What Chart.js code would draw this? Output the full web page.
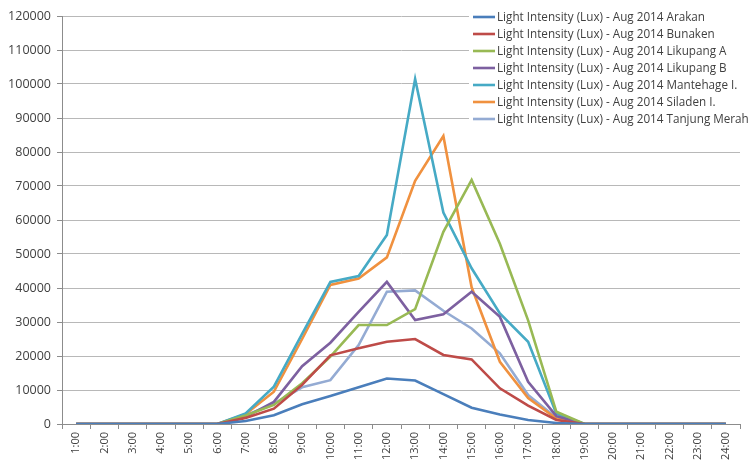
<!DOCTYPE html>
<html>
<head>
<meta charset="utf-8">
<script src="https://cdn.jsdelivr.net/npm/chart.js@4/dist/chart.umd.min.js"></script>
<style>
  html, body { margin: 0; padding: 0; background: #ffffff; }
  #wrap { width: 756px; height: 463px; position: relative; }
</style>
</head>
<body>
<div id="wrap"><canvas id="c" width="756" height="463"></canvas></div>
<script>
// Hourly light intensity (lux), August 2014, per site
const hours = ['1:00','2:00','3:00','4:00','5:00','6:00','7:00','8:00','9:00','10:00','11:00','12:00',
               '13:00','14:00','15:00','16:00','17:00','18:00','19:00','20:00','21:00','22:00','23:00','24:00'];

const seriesNames = [
  'Light Intensity (Lux) - Aug 2014 Arakan',
  'Light Intensity (Lux) - Aug 2014 Bunaken',
  'Light Intensity (Lux) - Aug 2014 Likupang A',
  'Light Intensity (Lux) - Aug 2014 Likupang B',
  'Light Intensity (Lux) - Aug 2014 Mantehage I.',
  'Light Intensity (Lux) - Aug 2014 Siladen I.',
  'Light Intensity (Lux) - Aug 2014 Tanjung Merah'
];

const arakan       = [0,0,0,0,0,0, 900, 2600, 5800, 8200, 10800, 13400, 12800, 8800, 4800, 2800, 1200, 300, 0,0,0,0,0,0];
const bunaken      = [0,0,0,0,0,0, 1800, 4500, 11500, 20200, 22300, 24200, 25000, 20300, 19000, 10500, 5400, 1200, 0,0,0,0,0,0];
const likupangA    = [0,0,0,0,0,0, 2500, 5600, 12000, 19800, 29100, 29100, 33800, 56500, 71800, 53000, 30500, 3600, 0,0,0,0,0,0];
const likupangB    = [0,0,0,0,0,0, 2100, 6500, 17000, 23900, 33000, 41800, 30600, 32300, 38900, 31500, 12400, 2300, 0,0,0,0,0,0];
const mantehage    = [0,0,0,0,0,0, 3100, 11000, 26500, 41800, 43500, 55600, 101500, 62200, 45800, 32500, 24200, 3000, 0,0,0,0,0,0];
const siladen      = [0,0,0,0,0,0, 2900, 9500, 25000, 40900, 42800, 49000, 71500, 84700, 40200, 18300, 7600, 1600, 0,0,0,0,0,0];
const tanjungMerah = [0,0,0,0,0,0, 2600, 5900, 10800, 12900, 23200, 38900, 39300, 33300, 28100, 20800, 8500, 1800, 0,0,0,0,0,0];

const seriesValues = [arakan, bunaken, likupangA, likupangB, mantehage, siladen, tanjungMerah];
const seriesColors = ['#4a7ebb', '#be4b48', '#98b954', '#7d60a0', '#46aac5', '#f0913f', '#94abd3'];

const yMax = 120000;
const yStep = 10000;

const datasets = seriesNames.map((name, i) => ({
  label: name,
  data: seriesValues[i],
  borderColor: seriesColors[i],
  backgroundColor: seriesColors[i],
  borderWidth: 2.6,
  pointRadius: 0,
  pointHoverRadius: 0,
  tension: 0,
  fill: false
}));

// Legend drawn over the top-right of the plot area on a white panel
const overlayLegend = {
  id: 'overlayLegend',
  afterDraw(chart) {
    const ctx = chart.ctx;
    const x0 = 469, y0 = 8, rowH = 17;
    ctx.save();
    ctx.fillStyle = '#ffffff';
    ctx.fillRect(x0, y0, 756 - x0, rowH * seriesNames.length + 2);
    ctx.font = '11.7px "Open Sans", "Liberation Sans", sans-serif';
    ctx.textBaseline = 'middle';
    ctx.textAlign = 'left';
    chart.data.datasets.forEach((ds, i) => {
      const cy = y0 + 9 + i * rowH;
      ctx.strokeStyle = ds.borderColor;
      ctx.lineWidth = 2.6;
      ctx.beginPath();
      ctx.moveTo(473, cy);
      ctx.lineTo(495, cy);
      ctx.stroke();
      ctx.fillStyle = '#3f3f3f';
      ctx.fillText(ds.label, 497, cy + 0.5);
    });
    ctx.restore();
  }
};

new Chart(document.getElementById('c'), {
  type: 'line',
  data: { labels: hours, datasets },
  options: {
    responsive: false,
    animation: false,
    devicePixelRatio: 1,
    layout: { padding: { left: 0, right: 16, top: 16, bottom: 0 } },
    plugins: {
      legend: { display: false },
      tooltip: { enabled: false }
    },
    scales: {
      x: {
        type: 'category',
        offset: true,
        grid: {
          offset: true,
          drawOnChartArea: false,
          drawTicks: true,
          tickLength: 5,
          color: '#8c8c8c'
        },
        border: { display: true, color: '#8c8c8c', width: 1 },
        ticks: {
          autoSkip: false,
          maxRotation: 90,
          minRotation: 90,
          padding: 3,
          color: '#404040',
          font: { family: '"Open Sans", "Liberation Sans", sans-serif', size: 11 }
        },
        afterFit(scale) { scale.height = 39; }
      },
      y: {
        min: 0,
        max: yMax,
        ticks: {
          stepSize: yStep,
          padding: 6,
          color: '#404040',
          font: { family: '"Open Sans", "Liberation Sans", sans-serif', size: 12.5 },
          callback: (v) => String(v)
        },
        grid: {
          color: '#b8b8b8',
          lineWidth: 1,
          drawTicks: true,
          tickLength: 5,
          tickColor: '#8c8c8c'
        },
        border: { display: true, color: '#8c8c8c', width: 1 },
        afterFit(scale) { scale.width = 62; }
      }
    }
  },
  plugins: [overlayLegend]
});
</script>
</body>
</html>
